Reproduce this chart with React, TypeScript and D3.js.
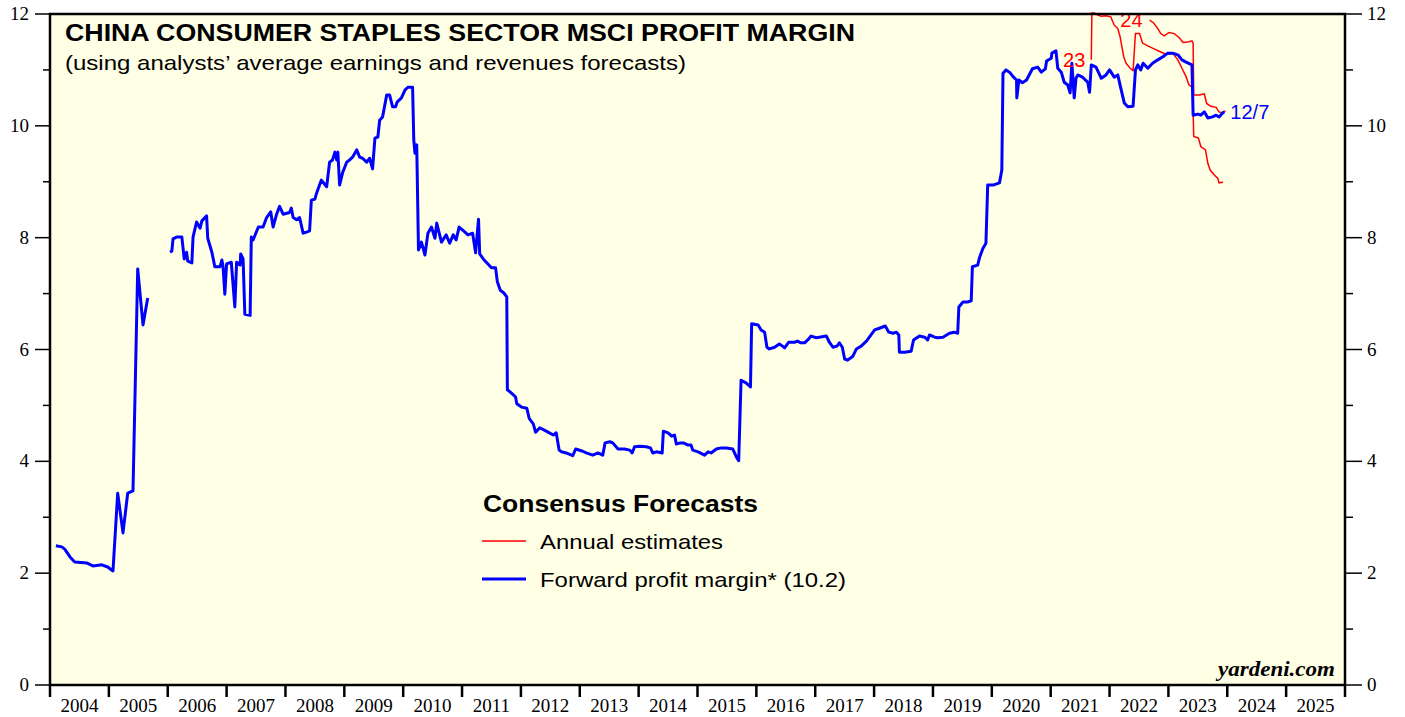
import React from "react";
import * as d3 from "d3";

const yearLabels = ["2004","2005","2006","2007","2008","2009","2010","2011","2012","2013","2014","2015","2016","2017","2018","2019","2020","2021","2022","2023","2024","2025"];
const yTicks = [0, 2, 4, 6, 8, 10, 12];

const fwdSeg1: [number, number][] = [
  [2004.10,2.49],[2004.20,2.47],[2004.25,2.43],[2004.34,2.29],[2004.42,2.20],[2004.63,2.18],[2004.73,2.13],[2004.88,2.15],[2004.98,2.11],[2005.07,2.04],[2005.15,3.43],[2005.24,2.72],[2005.32,3.43],[2005.41,3.47],[2005.49,7.44],[2005.58,6.44],[2005.66,6.92]
];

const fwdSeg2: [number, number][] = [
  [2006.04,7.74],[2006.07,7.76],[2006.09,7.98],[2006.15,8.01],[2006.24,8.01],[2006.28,7.62],[2006.32,7.74],[2006.34,7.58],[2006.41,7.55],[2006.43,8.01],[2006.49,8.28],[2006.55,8.17],[2006.58,8.30],[2006.66,8.39],[2006.68,7.99],[2006.75,7.74],[2006.80,7.48],[2006.89,7.48],[2006.92,7.60],[2006.94,7.48],[2006.97,6.99],[2007.00,7.53],[2007.08,7.56],[2007.14,6.76],[2007.17,7.56],[2007.23,7.51],[2007.24,7.71],[2007.28,7.62],[2007.31,6.63],[2007.40,6.61],[2007.42,8.01],
  [2007.45,7.96],[2007.54,8.19],[2007.62,8.19],[2007.68,8.36],[2007.75,8.46],[2007.79,8.19],[2007.85,8.42],[2007.90,8.56],[2007.96,8.42],[2008.07,8.45],[2008.10,8.53],[2008.13,8.36],[2008.19,8.32],[2008.24,8.36],[2008.30,8.08],[2008.36,8.10],[2008.41,8.12],[2008.44,8.67],[2008.50,8.69],[2008.53,8.80],[2008.61,9.03],[2008.70,8.91],[2008.75,9.35],[2008.80,9.39],[2008.84,9.53],[2008.87,9.39],[2008.89,9.53],[2008.92,8.94],[2008.97,9.16],[2009.04,9.35],[2009.09,9.39],[2009.14,9.44],[2009.21,9.57],[2009.26,9.44],[2009.31,9.42],[2009.38,9.35],[2009.43,9.42],[2009.48,9.23],[2009.52,9.78],[2009.57,9.80],[2009.60,10.10],[2009.65,10.16],[2009.72,10.55],[2009.77,10.55],[2009.82,10.34],[2009.87,10.34],[2009.90,10.43],[2009.97,10.50],[2010.03,10.64],[2010.08,10.69],[2010.16,10.69],[2010.18,9.75],[2010.20,9.51],[2010.23,9.66],[2010.26,7.78],
  [2010.31,7.92],[2010.37,7.69],[2010.42,8.08],[2010.48,8.19],[2010.54,7.99],[2010.57,8.26],[2010.65,7.92],[2010.73,8.05],[2010.79,7.90],[2010.85,8.05],[2010.90,7.96],[2010.95,8.19],[2011.05,8.10],[2011.10,8.05],[2011.18,8.08],[2011.23,7.73],[2011.28,8.33],[2011.30,7.71],[2011.36,7.62],[2011.44,7.53],[2011.50,7.46],[2011.57,7.46],[2011.60,7.21],[2011.65,7.06],[2011.71,7.01],[2011.76,6.94],[2011.77,5.28],[2011.84,5.22],[2011.91,5.15],[2011.93,5.03],[2012.01,4.97],[2012.10,4.95],[2012.14,4.77],[2012.21,4.67],[2012.25,4.52],[2012.32,4.60],[2012.43,4.54],[2012.55,4.47],[2012.60,4.51],[2012.65,4.20],[2012.69,4.17],[2012.77,4.15],[2012.88,4.10],[2012.93,4.22],[2013.05,4.18],[2013.11,4.15],[2013.22,4.11],[2013.31,4.15],[2013.39,4.11],
  [2013.43,4.33],[2013.51,4.35],[2013.56,4.33],[2013.65,4.22],[2013.76,4.22],[2013.85,4.20],[2013.89,4.15],[2013.93,4.26],[2014.02,4.27],[2014.13,4.26],[2014.20,4.24],[2014.24,4.15],[2014.30,4.17],[2014.40,4.15],[2014.42,4.54],[2014.50,4.51],[2014.56,4.45],[2014.61,4.47],[2014.64,4.31],[2014.71,4.33],[2014.76,4.33],[2014.84,4.29],[2014.89,4.29],[2014.92,4.20],[2015.01,4.17],[2015.12,4.11],[2015.18,4.17],[2015.23,4.15],[2015.32,4.22],[2015.40,4.24],[2015.49,4.24],[2015.60,4.22],[2015.66,4.08],[2015.70,4.01],[2015.74,5.45],[2015.83,5.40],[2015.90,5.33],[2015.92,6.46],[2016.03,6.44],[2016.08,6.35],[2016.14,6.31],[2016.18,6.04],[2016.22,6.01],[2016.31,6.04],[2016.39,6.10],[2016.48,6.03],[2016.55,6.13],[2016.65,6.13],[2016.70,6.15],[2016.75,6.12],[2016.82,6.12],[2016.89,6.19],[2016.93,6.24],[2017.02,6.21],[2017.19,6.24],[2017.24,6.13],[2017.30,6.04],[2017.37,6.06],[2017.41,6.12],[2017.46,6.04],[2017.50,5.83],[2017.55,5.81],[2017.64,5.88],[2017.70,6.01],[2017.78,6.06],[2017.87,6.15],[2018.01,6.35],[2018.09,6.38],[2018.19,6.42],[2018.25,6.31],[2018.32,6.29],[2018.38,6.31],[2018.42,6.26],[2018.43,5.95],[2018.52,5.95],[2018.63,5.97],[2018.67,6.17],[2018.77,6.24],[2018.86,6.22],[2018.91,6.17],[2018.94,6.26],[2019.03,6.22],[2019.08,6.21],[2019.17,6.22],[2019.28,6.29],[2019.36,6.31],[2019.42,6.29],[2019.44,6.76],[2019.51,6.85],[2019.59,6.85],[2019.65,6.87],[2019.67,7.48],[2019.76,7.51],[2019.79,7.64],[2019.85,7.81],[2019.90,7.90],[2019.93,8.94],[2020.02,8.94],[2020.13,8.98],[2020.17,9.21],[2020.19,10.94],[2020.24,11.00],[2020.30,10.96],[2020.37,10.87],[2020.42,10.82],[2020.425,10.50],[2020.46,10.82],[2020.52,10.77],[2020.59,10.82],[2020.69,11.02],[2020.78,11.05],[2020.84,10.96],[2020.91,11.02],[2020.93,11.16],[2021.01,11.21],[2021.02,11.30],[2021.09,11.34],[2021.12,11.03],[2021.18,10.96],[2021.23,10.78],[2021.29,10.73],[2021.33,10.59],[2021.36,11.12],[2021.40,10.50],[2021.43,10.85],[2021.46,10.91],[2021.54,10.87],[2021.63,10.78],[2021.66,10.60],[2021.69,11.09],[2021.77,11.05],[2021.86,10.85],[2021.94,10.91],[2022.00,11.00],[2022.08,10.87],[2022.14,10.91],[2022.19,10.68],[2022.25,10.41],[2022.31,10.34],[2022.40,10.35],[2022.44,11.00],[2022.48,11.09],[2022.53,11.00],[2022.57,11.12],[2022.65,11.03],[2022.73,11.12],[2022.82,11.18],[2022.90,11.23],[2022.99,11.30],[2023.07,11.30],[2023.16,11.27],[2023.23,11.18],[2023.30,11.14],[2023.40,11.09],[2023.42,10.19],[2023.50,10.21],[2023.55,10.19],[2023.61,10.25],[2023.67,10.14],[2023.75,10.16],[2023.81,10.19],[2023.86,10.16],[2023.92,10.23],[2023.95,10.25]
];

const est2023: [number, number][] = [
  [2021.69,11.18],[2021.70,12.02],[2021.74,12.02],[2021.80,11.98],[2021.86,11.96],[2021.94,11.97],[2022.02,11.95],[2022.08,11.80],[2022.14,11.74],[2022.18,11.59],[2022.21,11.41],[2022.24,11.24],[2022.28,11.12],[2022.35,11.03],[2022.40,10.99],[2022.44,11.65],[2022.51,11.65],[2022.56,11.48],[2022.65,11.43],[2022.73,11.39],[2022.85,11.33],[2022.96,11.28],[2023.07,11.30],[2023.16,11.18],[2023.23,11.03],[2023.30,10.88],[2023.35,10.73],[2023.41,10.69],[2023.43,9.81],[2023.51,9.78],[2023.55,9.63],[2023.63,9.57],[2023.67,9.33],[2023.71,9.21],[2023.78,9.12],[2023.84,9.06],[2023.86,8.98],[2023.93,8.99]
];

const est2024: [number, number][] = [
  [2022.68,11.89],[2022.75,11.84],[2022.82,11.74],[2022.87,11.65],[2022.93,11.61],[2023.01,11.67],[2023.10,11.65],[2023.18,11.58],[2023.25,11.49],[2023.33,11.50],[2023.40,11.52],[2023.42,11.48],[2023.43,10.55],[2023.52,10.55],[2023.61,10.57],[2023.65,10.40],[2023.72,10.35],[2023.81,10.33],[2023.86,10.25],[2023.92,10.23],[2023.97,10.27]
];

const W = 1405, H = 717;
const L = 50, R = 1345, T = 14, B = 685;

export default function App() {
  const x = d3.scaleLinear().domain([2004, 2026]).range([L, R]);
  const y = d3.scaleLinear().domain([0, 12]).range([B, T]);
  const line = d3.line<[number, number]>().x(d => x(d[0])).y(d => y(d[1]));
  const minor = d3.range(1, 12, 2);
  const sans = "Liberation Sans, Arial, sans-serif";
  const serif = "Liberation Serif, Times New Roman, serif";
  const last = fwdSeg2[fwdSeg2.length - 1];
  return (
    <svg width={W} height={H} style={{ position: "absolute", left: 0, top: 0 }}>
      <rect x={0} y={0} width={W} height={H} fill="#ffffff" />
      <rect x={L} y={T} width={R - L} height={B - T} fill="#ffffe6" />
      {yTicks.map(v => (
        <g key={"yt" + v}>
          <line x1={35} x2={L} y1={y(v)} y2={y(v)} stroke="#000" strokeWidth={1.5} />
          <line x1={R} x2={1362} y1={y(v)} y2={y(v)} stroke="#000" strokeWidth={1.5} />
          <text x={29} y={y(v) + 6} textAnchor="end" fontFamily={serif} fontSize={19}>{v}</text>
          <text x={1367} y={y(v) + 6} textAnchor="start" fontFamily={serif} fontSize={19}>{v}</text>
        </g>
      ))}
      {minor.map(v => (
        <g key={"ym" + v}>
          <line x1={43} x2={L} y1={y(v)} y2={y(v)} stroke="#000" strokeWidth={1.5} />
          <line x1={R} x2={1353} y1={y(v)} y2={y(v)} stroke="#000" strokeWidth={1.5} />
        </g>
      ))}
      {d3.range(2004, 2027).map(yr => (
        <line key={"xt" + yr} x1={x(yr)} x2={x(yr)} y1={B} y2={697} stroke="#000" strokeWidth={2.5} />
      ))}
      {yearLabels.map((lab, i) => (
        <text key={"xl" + lab} x={x(2004 + i + 0.5)} y={712} textAnchor="middle" fontFamily={serif} fontSize={19}>{lab}</text>
      ))}
      <path d={line(est2023) || ""} fill="none" stroke="#ff0000" strokeWidth={1.5} />
      <path d={line(est2024) || ""} fill="none" stroke="#ff0000" strokeWidth={1.5} />
      <path d={line(fwdSeg1) || ""} fill="none" stroke="#0000ff" strokeWidth={3} strokeLinejoin="round" />
      <path d={line(fwdSeg2) || ""} fill="none" stroke="#0000ff" strokeWidth={3} strokeLinejoin="round" />
      <text x={x(est2023[0][0]) - 6} y={y(est2023[0][1]) + 7} textAnchor="end" fontFamily={sans} fontSize={20} fill="#ff0000">23</text>
      <text x={x(est2024[0][0]) - 7} y={y(est2024[0][1]) + 7} textAnchor="end" fontFamily={sans} fontSize={20} fill="#ff0000">24</text>
      <text x={x(last[0]) + 6} y={y(last[1]) + 7} fontFamily={sans} fontSize={20} fill="#0000ff">12/7</text>
      <rect x={L} y={T} width={R - L} height={B - T} fill="none" stroke="#000" strokeWidth={2.5} />
      <text x={65} y={41} fontFamily={sans} fontWeight="bold" fontSize={23} textLength={790} lengthAdjust="spacingAndGlyphs">CHINA CONSUMER STAPLES SECTOR MSCI PROFIT MARGIN</text>
      <text x={65} y={70} fontFamily={sans} fontSize={21} textLength={621} lengthAdjust="spacingAndGlyphs">(using analysts’ average earnings and revenues forecasts)</text>
      <text x={483} y={512} fontFamily={sans} fontWeight="bold" fontSize={23} textLength={275} lengthAdjust="spacingAndGlyphs">Consensus Forecasts</text>
      <line x1={482} x2={526} y1={541} y2={541} stroke="#ff0000" strokeWidth={1.5} />
      <text x={540} y={549} fontFamily={sans} fontSize={21} textLength={183} lengthAdjust="spacingAndGlyphs">Annual estimates</text>
      <line x1={482} x2={526} y1={579} y2={579} stroke="#0000ff" strokeWidth={3} />
      <text x={540} y={587} fontFamily={sans} fontSize={21} textLength={306} lengthAdjust="spacingAndGlyphs">Forward profit margin* (10.2)</text>
      <text x={1335} y={676} textAnchor="end" fontFamily={serif} fontWeight="bold" fontStyle="italic" fontSize={21} textLength={117} lengthAdjust="spacingAndGlyphs">yardeni.com</text>
    </svg>
  );
}
